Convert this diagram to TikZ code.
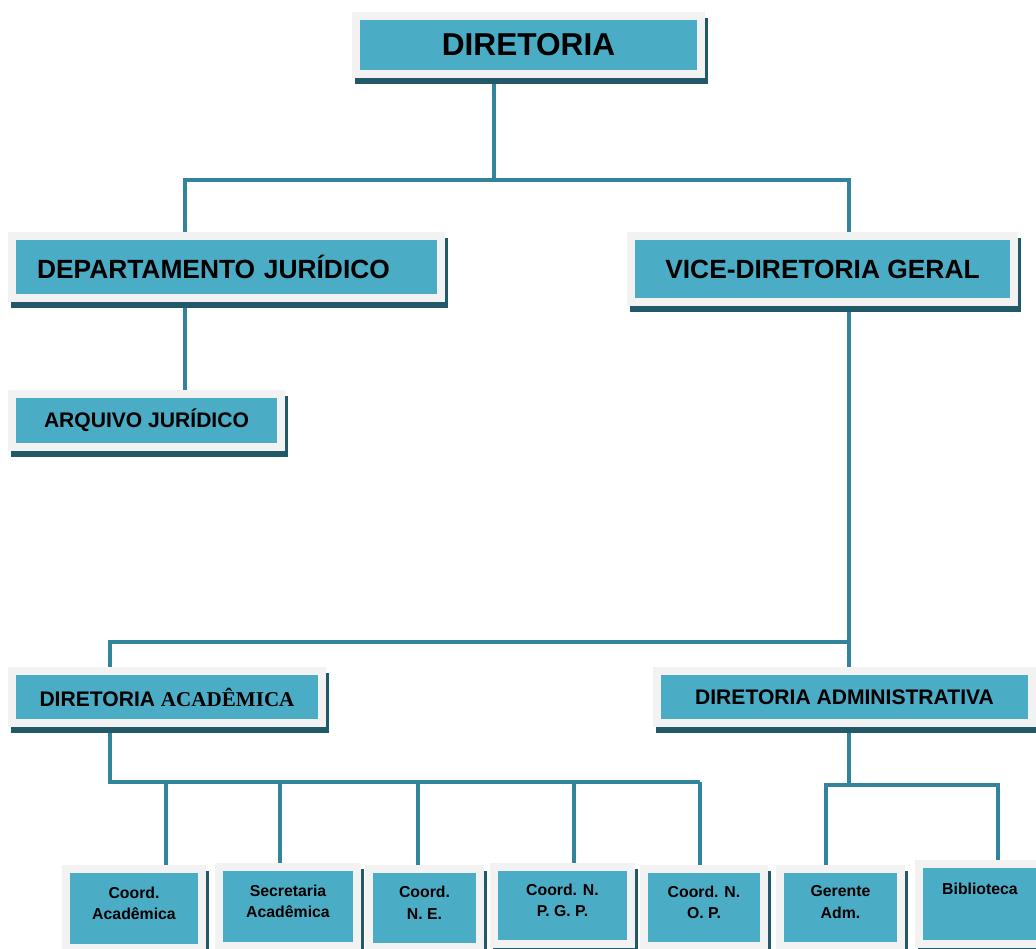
\documentclass[tikz,border=0pt]{standalone}
\usepackage{fontspec}
\setmainfont{Liberation Sans}
\newfontfamily\timesfont{Liberation Serif}
\usetikzlibrary{backgrounds}

\definecolor{boxteal}{HTML}{4BACC6}
\definecolor{framegray}{HTML}{F2F2F2}
\definecolor{shadeteal}{HTML}{215968}
\definecolor{linkteal}{HTML}{31849B}

\tikzset{
  unit/.style={draw=framegray, fill=boxteal, line width=0.16cm, inner sep=0pt, outer sep=0pt, align=center,
    preaction={draw=shadeteal, fill=shadeteal, line width=0.16cm, transform canvas={shift={(0.06cm,-0.12cm)}}}},
  chief/.style={font=\fontsize{18}{22}\selectfont\bfseries},
  dept/.style={font=\fontsize{15}{18}\selectfont\bfseries},
  sub/.style={font=\fontsize{12}{14}\selectfont\bfseries},
  leaf/.style={font=\fontsize{9}{12.4}\selectfont\bfseries, text depth=6pt},
  link/.style={draw=linkteal, line width=0.08cm},
}

\begin{document}
\begin{tikzpicture}[x=0.02cm, y=-0.02cm]
\useasboundingbox (0,0) rectangle (1036,949);

% upper levels
\node[unit, chief, minimum width=6.9cm, minimum height=1.16cm] (dir) at (528.5,45) {DIRETORIA};
\node[unit, dept, minimum width=8.58cm, minimum height=1.24cm, text width=7.58cm, align=left] (dj) at (226.5,267) {DEPARTAMENTO JURÍDICO};
\node[unit, dept, minimum width=7.66cm, minimum height=1.32cm] (vdg) at (822.5,269) {VICE-DIRETORIA GERAL};
\node[unit, sub, minimum width=5.38cm, minimum height=1.06cm] (arq) at (146.5,420.5) {ARQUIVO JURÍDICO};
\node[unit, sub, minimum width=6.2cm, minimum height=1.04cm] (dac) at (167,697) {DIRETORIA {\timesfont ACADÊMICA}};
\node[unit, sub, minimum width=7.5cm, minimum height=1.04cm] (dad) at (844.5,697) {DIRETORIA ADMINISTRATIVA};

% bottom row
\node[unit, leaf, minimum width=2.72cm, minimum height=1.58cm] (b1) at (134,908.5) {Coord.\\Acadêmica};
\node[unit, leaf, minimum width=2.76cm, minimum height=1.58cm] (b2) at (288,906.5) {Secretaria\\Acadêmica};
\node[unit, leaf, minimum width=2.22cm, minimum height=1.58cm] (b3) at (424.5,908) {Coord.\\N. E.};
\node[unit, leaf, minimum width=2.74cm, minimum height=1.54cm] (b4) at (562.5,905.5) {Coord. N.\\P. G. P.};
\node[unit, leaf, minimum width=2.4cm, minimum height=1.54cm] (b5) at (704,907.5) {Coord. N.\\O. P.};
\node[unit, leaf, minimum width=2.42cm, minimum height=1.54cm] (b6) at (840.5,907.5) {Gerente\\Adm.};
\node[unit, leaf, text depth=17pt, minimum width=2.44cm, minimum height=1.6cm] (b7) at (980,904) {Biblioteca};

% connectors
\begin{scope}[on background layer]
\coordinate (top) at (494,180);
\coordinate (jl) at (185,180);
\coordinate (jr) at (849,180);
\draw[link] (dir.center -| top) -- (top);
\draw[link] (dj.center -| jl) -- (jl) -- (jr) -- (vdg.center -| jr);
\draw[link] (dj.center -| jl) -- (arq.center -| jl);

\coordinate (mid) at (849,642);
\coordinate (midl) at (110,642);
\draw[link] (vdg.center -| mid) -- (dad.center -| mid);
\draw[link] (mid) -- (midl) -- (dac.center -| midl);

\coordinate (acl) at (110,782);
\draw[link] (dac.center -| acl) -- (acl) -- (700,782);
\foreach \n/\x in {1/166, 2/280, 3/418, 4/574, 5/700} {
  \coordinate (a\n) at (\x,782);
  \draw[link] (a\n) -- (b\n.center -| a\n);
}

\coordinate (ad) at (849,785);
\coordinate (g1) at (826,785);
\coordinate (g2) at (998,785);
\draw[link] (dad.center -| ad) -- (ad);
\draw[link] (b6.center -| g1) -- (g1) -- (g2) -- (b7.center -| g2);
\end{scope}
\end{tikzpicture}
\end{document}
